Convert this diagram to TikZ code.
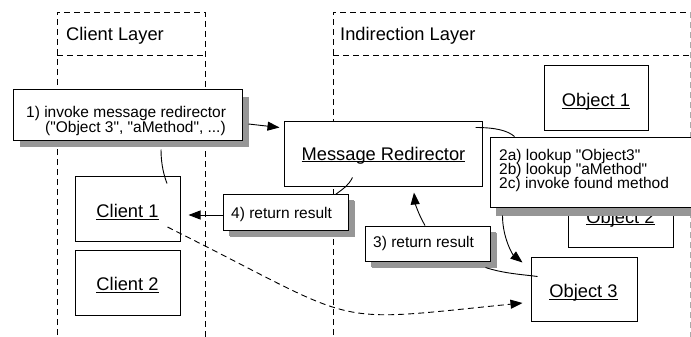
\documentclass[tikz,border=0pt]{standalone}
\usepackage{fontspec}
\setmainfont{Liberation Sans}[Ligatures=TeXOff]
\usetikzlibrary{arrows.meta,shadows,calc}
\definecolor{shadowc}{RGB}{150,150,150}
\definecolor{edgegray}{RGB}{170,170,170}
\newcommand{\ulab}[1]{\setbox0\hbox{#1}\rlap{\rule[-2.3pt]{\wd0}{0.9pt}}\box0}
\begin{document}
\begin{tikzpicture}[x=1pt,y=-1pt,
  lane/.style={line width=0.9pt, dash pattern=on 6pt off 4pt},
  obj/.style={draw, line width=1pt, fill=white, inner sep=0pt},
  callout/.style={obj, drop shadow={shadow xshift=6.5pt, shadow yshift=-7pt, fill=shadowc, opacity=1}},
  lbl/.style={font=\fontsize{18.3}{20}\selectfont, inner sep=0pt, anchor=base},
  ltitle/.style={font=\fontsize{18.3}{20}\selectfont, inner sep=0pt, anchor=base west},
  ctext/.style={font=\fontsize{15.5}{16}\selectfont, inner sep=0pt, anchor=base west},
  conn/.style={line width=0.9pt},
  arr/.style={conn, -{Triangle[length=12pt,width=9pt]}},
]
\useasboundingbox (0,0) rectangle (691,337);
\clip (0,0) rectangle (691,337);
% layers
\draw[lane] (57,345) -- (57,12) -- (205,12) -- (205,345);
\draw[lane] (57,55) -- (205,55);
\draw[lane] (333,345) -- (333,12) -- (690,12);
\draw[lane] (333,55) -- (690,55);
\draw[lane, draw=edgegray] (690,12) -- (690,345);
\node[ltitle] (tcl) at (66,41) {Client Layer};
\node[ltitle] (til) at (340,41) {Indirection Layer};
% object boxes
\node[obj, minimum width=105pt, minimum height=65pt] (c1) at (127.5,208.5) {};
\node[lbl] (c1t) at (127.5,217.5) {\ulab{Client 1}};
\node[obj, minimum width=105pt, minimum height=65pt] (c2) at (127.5,282.5) {};
\node[lbl] (c2t) at (127.5,290.5) {\ulab{Client 2}};
\node[obj, minimum width=198pt, minimum height=65pt] (mr) at (383,153.5) {};
\node[lbl] (mrt) at (383.5,160) {\ulab{Message Redirector}};
\node[obj, minimum width=104pt, minimum height=64pt] (o1) at (596,98) {};
\node[lbl] (o1t) at (596,106.5) {\ulab{Object 1}};
\node[obj, minimum width=105pt, minimum height=64pt] (o2) at (620.5,215) {};
\node[lbl] (o2t) at (620.5,223) {\ulab{Object 2}};
\node[obj, minimum width=106pt, minimum height=64pt] (o3) at (584,289) {};
\node[lbl] (o3t) at (583.5,297.5) {\ulab{Object 3}};
% callout boxes
\node[callout, minimum width=229pt, minimum height=50pt] (b1) at (127.5,115) {};
\node[ctext] (b1a) at (26,117.5) {1) invoke message redirector};
\node[ctext] (b1b) at (45,132) {("Object 3", "aMethod", ...)};
\node[callout, minimum width=215pt, minimum height=70pt, drop shadow={shadow xshift=5.5pt, shadow yshift=-8.5pt, fill=shadowc, opacity=1}] (b2) at (597.5,172) {};
\node[ctext] (b2a) at (499,160.5) {2a) lookup "Object3"};
\node[ctext] (b2b) at (499,174.5) {2b) lookup "aMethod"};
\node[ctext] (b2c) at (499,188.5) {2c) invoke found method};
\node[callout, minimum width=125pt, minimum height=36pt, drop shadow={shadow xshift=5.5pt, shadow yshift=-6pt, fill=shadowc, opacity=1}] (b4) at (285.5,212) {};
\node[ctext] (b4t) at (231,218) {4) return result};
\node[callout, minimum width=125pt, minimum height=35pt, drop shadow={shadow xshift=5.5pt, shadow yshift=-6pt, fill=shadowc, opacity=1}] (b3) at (427.5,243.5) {};
\node[ctext] (b3t) at (373,247) {3) return result};
% connectors
\draw[arr] ($(b1.east)+(6,9)$) -- ($(mr.north west)+(-4,7)$);
\draw[conn] ($(b1.south)+(33.5,9)$) .. controls +(0,15) and +(-3,-8) .. ($(c1.north)+(39.5,8)$);
\draw[conn] ($(mr.north east)+(-7,7)$) .. controls +(20,0) and +(-7,-6) .. ($(b2.north west)+(25,0)$);
\draw[conn] ($(mr.south west)+(69,-9)$) .. controls +(-4,8) and +(8,-6) .. ($(b4.north east)+(-13,1)$);
\draw[arr] ($(b4.west)+(0,3)$) -- ($(c1.east)+(8,6.5)$);
\draw[arr] ($(b3.north)+(-2.5,0)$) .. controls +(-7,-12) and +(1,10) .. ($(mr.south)+(31,6)$);
\draw[conn] ($(b3.south east)+(-5,6)$) .. controls +(18,6) and +(-15,-2) .. ($(o3.north west)+(7,20)$);
\draw[arr] ($(b2.south west)+(13,8)$) .. controls +(0,22) and +(-10,-8) .. ($(o3.north west)+(-8,6)$);
\draw[arr, dash pattern=on 6pt off 4pt] ($(c1.east)+(-13,18.5)$) .. controls +(200,100) and +(-200,20) .. ($(o3.west)+(-8,14)$);
\end{tikzpicture}
\end{document}
